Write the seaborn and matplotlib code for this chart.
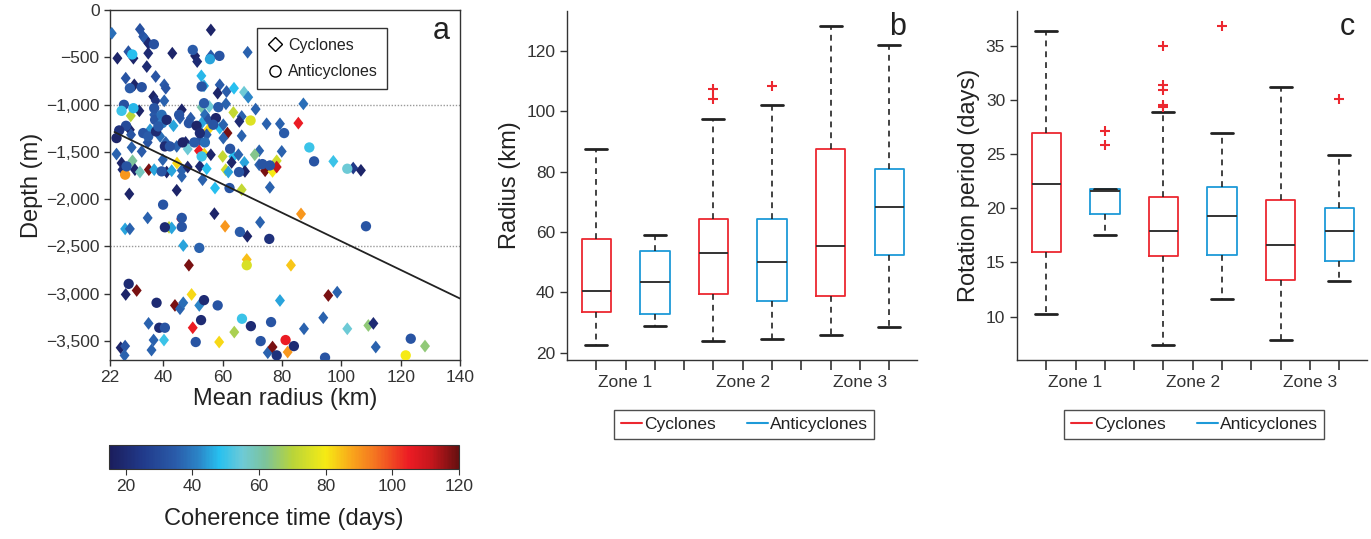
import numpy as np
import pandas as pd
import matplotlib
matplotlib.use("Agg")
import matplotlib.pyplot as plt
from matplotlib.colors import LinearSegmentedColormap, Normalize
from matplotlib.lines import Line2D
from matplotlib.ticker import FuncFormatter
import seaborn as sns

# ---------------- Panel a data (mean radius km, depth m, coherence time days) ----------------
cyc_radius = [22.6, 32.1, 56.0, 33.2, 34.0, 34.9, 24.5, 28.2, 29.9, 34.9, 43.0, 50.7, 51.4, 56.0, 68.4,
              34.4, 27.3, 30.2, 37.4, 40.3, 40.8, 52.8, 53.7, 59.0, 58.3, 61.3, 63.8, 67.2, 68.6, 36.6,
              37.4, 40.3, 29.0, 31.9, 36.9, 43.4, 46.2, 45.6, 49.2, 52.9, 55.5, 61.1, 54.0, 55.1, 52.9,
              55.1, 54.6, 59.0, 60.2, 61.6, 63.6, 66.4, 65.6, 71.1, 74.8, 79.3, 85.5, 87.2, 66.4, 28.7,
              29.1, 35.5, 38.9, 29.3, 32.7, 34.7, 40.8, 44.5, 47.5, 48.2, 52.3, 52.0, 53.8, 56.0, 60.0,
              60.2, 63.6, 63.0, 65.3, 67.3, 67.5, 72.3, 70.8, 72.3, 74.3, 76.8, 78.2, 78.2, 79.9, 97.3,
              104.0, 106.6, 24.2, 25.9, 26.2, 29.6, 30.4, 32.1, 35.1, 36.9, 39.8, 41.1, 42.8, 44.6, 46.2,
              46.2, 48.2, 52.3, 53.2, 54.6, 57.4, 61.0, 61.9, 66.4, 75.9, 28.5, 44.5, 86.4, 34.7, 46.0,
              57.2, 27.1, 28.7, 41.9, 42.8, 60.8, 68.3, 72.6, 46.7, 48.6, 68.1, 83.0, 27.3, 31.0, 43.9,
              45.6, 46.7, 49.5, 52.1, 95.6, 98.6, 79.3, 35.0, 36.7, 40.2, 49.9, 58.8, 63.9, 36.0, 25.6,
              27.1, 26.9, 75.2, 76.8, 81.9, 87.4, 93.9, 102.0, 109.1, 110.8, 111.6, 128.2]
cyc_depth = [-246, -204, -211, -281, -310, -352, -510, -440, -510, -457, -457, -485, -545, -485, -447,
             -598, -721, -791, -703, -791, -827, -696, -802, -791, -879, -862, -827, -869, -922, -915,
             -960, -960, -1119, -1066, -1108, -1224, -1055, -1143, -1143, -1027, -1020, -992, -1108, -1161, -1196,
             -1266, -1319, -1249, -1213, -1301, -1083, -1126, -1178, -1048, -1203, -1203, -1196, -992, -1330, -1266,
             -1319, -1266, -1336, -1453, -1495, -1400, -1400, -1442, -1400, -1470, -1372, -1488, -1523, -1530, -1548,
             -1354, -1548, -1611, -1530, -1611, -1706, -1488, -1530, -1636, -1699, -1706, -1594, -1660, -1495, -1600,
             -1671, -1695, -1523, -1618, -1688, -1594, -1688, -1713, -1688, -1688, -1583, -1713, -1699, -1618, -1695,
             -1759, -1660, -1653, -1794, -1678, -1882, -1688, -1713, -1900, -1875, -1945, -1906, -2156, -2198, -2210,
             -2153, -2314, -2314, -2297, -2304, -2286, -2392, -2244, -2490, -2698, -2638, -2698, -3007, -2965, -3123,
             -3158, -3095, -3007, -3123, -3018, -2983, -3071, -3313, -3489, -3489, -3359, -3510, -3405, -3595, -3570,
             -3553, -3651, -3623, -3563, -3616, -3370, -3253, -3370, -3335, -3313, -3563, -3553]
cyc_coh = [38, 32, 18, 33, 35, 20, 18, 33, 18, 20, 18, 18, 20, 35, 36,
           20, 33, 18, 33, 35, 33, 47, 45, 35, 18, 35, 48, 55, 42, 18,
           22, 36, 70, 18, 35, 45, 18, 35, 35, 60, 55, 36, 38, 33, 45,
           82, 35, 48, 36, 118, 72, 36, 20, 36, 36, 36, 105, 38, 36, 18,
           33, 44, 38, 36, 35, 33, 36, 36, 20, 55, 33, 105, 82, 18, 72,
           36, 48, 18, 36, 45, 18, 36, 63, 36, 118, 80, 74, 112, 36, 50,
           25, 18, 36, 18, 20, 62, 18, 58, 118, 45, 36, 18, 45, 82, 36,
           36, 18, 20, 36, 48, 48, 74, 45, 72, 36, 18, 18, 90, 36, 105,
           18, 45, 36, 72, 45, 90, 18, 36, 45, 118, 85, 84, 18, 118, 118,
           36, 38, 82, 42, 118, 36, 45, 36, 36, 50, 105, 82, 68, 36, 18,
           33, 36, 36, 118, 90, 36, 36, 55, 65, 20, 36, 65]

anti_radius = [36.8, 29.5, 49.9, 55.7, 58.9, 28.7, 32.7, 52.9, 26.7, 25.9, 29.9, 36.9, 37.2, 39.4, 39.6,
               41.1, 45.3, 48.6, 51.2, 53.7, 58.5, 57.7, 56.8, 52.3, 69.4, 80.7, 24.2, 27.4, 25.1, 33.2,
               34.9, 37.5, 38.3, 40.5, 42.2, 46.5, 50.4, 54.0, 52.9, 62.5, 65.5, 73.4, 75.9, 89.2, 90.8,
               102.0, 27.1, 27.6, 39.4, 62.3, 39.9, 46.2, 40.5, 46.2, 65.8, 75.7, 108.3, 52.1, 68.1, 28.3,
               37.7, 53.7, 58.3, 38.6, 40.5, 52.7, 50.9, 66.5, 69.5, 72.8, 76.3, 78.2, 81.2, 84.0, 94.5,
               121.7, 123.4]
anti_depth = [-362, -470, -422, -520, -485, -827, -816, -809, -1002, -1066, -1038, -1038, -1161, -1108, -1196,
              -1161, -1108, -1196, -1224, -985, -1027, -1143, -1213, -1301, -1168, -1301, -1354, -1224, -1273, -1301,
              -1336, -1284, -1231, -1442, -1442, -1400, -1400, -1400, -1548, -1467, -1713, -1629, -1643, -1453, -1600,
              -1678, -1741, -1653, -1706, -1882, -2058, -2198, -2297, -2293, -2346, -2420, -2286, -2515, -2698, -2895,
              -3095, -3067, -3123, -3359, -3359, -3278, -3510, -3264, -3342, -3500, -3299, -3651, -3489, -3553, -3675,
              -3651, -3475]
anti_coh = [32, 48, 35, 45, 33, 35, 32, 33, 32, 50, 47, 33, 33, 38, 40,
            20, 33, 33, 18, 35, 35, 18, 33, 20, 76, 35, 18, 30, 22, 33,
            35, 20, 35, 20, 33, 18, 35, 38, 50, 33, 33, 33, 33, 50, 33,
            55, 90, 33, 33, 33, 33, 33, 20, 33, 35, 22, 33, 36, 75, 20,
            20, 20, 33, 20, 33, 20, 33, 50, 20, 33, 33, 22, 105, 20, 33,
            80, 33]

# regression line end points (radius, depth)
trend_radius = [23.5, 140.0]
trend_depth = [-1290, -3050]
zone_limits = [-1000, -2500]

# ---------------- Panels b and c: box summaries ----------------
zones = ["Zone 1", "Zone 2", "Zone 3"]
box_types = ["Cyclones", "Anticyclones", "Cyclones", "Anticyclones", "Cyclones", "Anticyclones"]
# whisker low, Q1, median, Q3, whisker high
radius_stats = [[22.5, 33.6, 40.4, 57.8, 87.5],
                [28.8, 32.9, 43.5, 53.9, 59.0],
                [23.9, 39.6, 53.1, 64.5, 97.6],
                [24.5, 37.3, 50.0, 64.3, 102.1],
                [25.9, 38.9, 55.5, 87.5, 128.4],
                [28.6, 52.4, 68.3, 80.8, 122.1]]
radius_outliers = [[], [], [107.3, 104.2], [108.6], [], []]

period_stats = [[10.2, 16.0, 22.2, 26.9, 36.4],
                [17.5, 19.5, 21.55, 21.8, 21.8],
                [7.4, 15.6, 17.9, 21.0, 28.9],
                [11.6, 15.7, 19.3, 22.0, 26.9],
                [7.8, 13.4, 16.6, 20.8, 31.2],
                [13.3, 15.1, 17.9, 20.0, 24.9]]
period_outliers = [[], [27.1, 25.8], [35.0, 31.4, 30.9, 29.5, 29.3], [36.8], [], [30.1]]

# ---------------- Style ----------------
sns.set_style("ticks")
FONT = ["Liberation Sans Narrow", "Liberation Sans", "DejaVu Sans"]
plt.rcParams["font.family"] = FONT
plt.rcParams["axes.edgecolor"] = "#333333"
plt.rcParams["xtick.color"] = "#333333"
plt.rcParams["ytick.color"] = "#333333"
plt.rcParams["text.color"] = "#222222"
plt.rcParams["axes.labelcolor"] = "#222222"

RED = "#ec2830"
BLUE = "#1e9ad8"

cmap = LinearSegmentedColormap.from_list("coh", [
    (0.0, "#1b1d5c"), ((25 - 15) / 105, "#213a8a"), ((35 - 15) / 105, "#2a5caa"),
    ((42 - 15) / 105, "#2b86c8"), ((48 - 15) / 105, "#27c0ef"), ((55 - 15) / 105, "#6ecad6"),
    ((62 - 15) / 105, "#7cc39a"), ((70 - 15) / 105, "#b8d43a"), ((80 - 15) / 105, "#f6eb14"),
    ((88 - 15) / 105, "#f9a51b"), ((95 - 15) / 105, "#f47321"), ((105 - 15) / 105, "#ec1c24"),
    ((112 - 15) / 105, "#c4161c"), (1.0, "#661010")])
norm = Normalize(15, 120)

W, H = 1371, 539
fig = plt.figure(figsize=(W / 100, H / 100), dpi=100)


def px_axes(l, t, r, b):
    return fig.add_axes([l / W, 1 - b / H, (r - l) / W, (b - t) / H])


TICK = 12.5
LABEL = 17

# ---------------- Panel a ----------------
ax_a = px_axes(110, 10, 460, 360)
dfc = pd.DataFrame({"radius": cyc_radius, "depth": cyc_depth, "coh": cyc_coh})
dfa = pd.DataFrame({"radius": anti_radius, "depth": anti_depth, "coh": anti_coh})
diamond = [(0, 1), (0.78, 0), (0, -1), (-0.78, 0), (0, 1)]
for v in zone_limits:
    ax_a.axhline(v, color="#999999", lw=1.0, ls=(0, (1, 1.2)), zorder=1)
sns.scatterplot(data=dfc, x="radius", y="depth", hue="coh", hue_norm=norm, palette=cmap,
                marker=diamond, s=85, linewidth=0, legend=False, ax=ax_a, zorder=3)
sns.scatterplot(data=dfa, x="radius", y="depth", hue="coh", hue_norm=norm, palette=cmap,
                marker="o", s=55, linewidth=0, legend=False, ax=ax_a, zorder=3)
sns.lineplot(x=trend_radius, y=trend_depth, color="#222222", lw=1.3, ax=ax_a, zorder=4)
ax_a.set_xlim(22, 140)
ax_a.set_ylim(-3700, 0)
ax_a.set_xticks([22, 40, 60, 80, 100, 120, 140])
ax_a.set_yticks([0, -500, -1000, -1500, -2000, -2500, -3000, -3500])
ax_a.yaxis.set_major_formatter(FuncFormatter(lambda v, p: "0" if v == 0 else f"\u2212{abs(v):,.0f}"))
ax_a.tick_params(labelsize=TICK, length=4, width=1)
ax_a.set_xlabel("Mean radius (km)", fontsize=LABEL, labelpad=2)
ax_a.set_ylabel("Depth (m)", fontsize=LABEL, labelpad=2)
for s in ax_a.spines.values():
    s.set_linewidth(1.0)
leg_a = ax_a.legend(handles=[
    Line2D([], [], marker="D", ls="", mfc="white", mec="black", ms=7, label="Cyclones"),
    Line2D([], [], marker="o", ls="", mfc="white", mec="black", ms=8, label="Anticyclones")],
    loc="upper right", bbox_to_anchor=(0.815, 0.97), fontsize=11.5, frameon=True,
    fancybox=False, edgecolor="black", handletextpad=0.3, borderpad=0.6, labelspacing=0.7,
    handlelength=1.0)
leg_a.get_frame().set_linewidth(1.0)
ax_a.text(0.945, 0.94, "a", transform=ax_a.transAxes, fontsize=22, ha="center", va="center")

# colorbar
cax = px_axes(109, 445, 459, 469)
sm = matplotlib.cm.ScalarMappable(norm=norm, cmap=cmap)
cb = fig.colorbar(sm, cax=cax, orientation="horizontal")
cb.set_ticks([20, 40, 60, 80, 100, 120])
cb.ax.tick_params(labelsize=TICK, length=4)
cb.outline.set_linewidth(0.8)
cb.set_label("Coherence time (days)", fontsize=LABEL, labelpad=10)


# ---------------- Panels b, c ----------------
def box_panel(ax, stats, outliers, ylabel, ylim, yticks, letter):
    positions = [0, 2, 4, 6, 8, 10]
    rows = []
    for p, t, st in zip(positions, box_types, stats):
        for v in st:
            rows.append({"pos": p, "value": v, "type": t})
    df = pd.DataFrame(rows)
    sns.boxplot(data=df, x="pos", y="value", hue="type", hue_order=["Cyclones", "Anticyclones"],
                palette={"Cyclones": RED, "Anticyclones": BLUE}, native_scale=True, dodge=False,
                fill=False, width=0.5, whis=np.inf, saturation=1, linewidth=1.3, showfliers=False,
                legend=False, ax=ax, capwidths=0.75,
                medianprops=dict(color="#333333", linewidth=1.4),
                whiskerprops=dict(color="#222222", linestyle=(0, (3.5, 3)), linewidth=1.2),
                capprops=dict(color="#222222", linewidth=2.0))
    ox, oy = [], []
    for p, outs in zip(positions, outliers):
        for v in outs:
            ox.append(p)
            oy.append(v)
    sns.scatterplot(x=ox, y=oy, marker="+", color=RED, s=60, linewidth=1.5, ax=ax, zorder=5,
                    legend=False)
    ax.set_xlim(-1, 10.95)
    ax.set_ylim(*ylim)
    ax.set_xticks(range(11))
    ax.set_xticklabels(["", "Zone 1", "", "", "", "Zone 2", "", "", "", "Zone 3", ""])
    ax.set_yticks(yticks)
    ax.tick_params(axis="both", labelsize=TICK, length=5, width=1)
    ax.tick_params(axis="x", length=7, width=1.2)
    ax.set_xlabel("")
    ax.set_ylabel(ylabel, fontsize=LABEL, labelpad=4)
    sns.despine(ax=ax)
    for s in ax.spines.values():
        s.set_linewidth(1.0)
    leg = ax.legend(handles=[Line2D([], [], color=RED, lw=1.5, label="Cyclones"),
                             Line2D([], [], color=BLUE, lw=1.5, label="Anticyclones")],
                    loc="center", bbox_to_anchor=(0.507, -0.185), ncol=2, fontsize=12.5,
                    frameon=True, fancybox=False, edgecolor="#222222", handlelength=1.2,
                    handletextpad=0.1, columnspacing=1.8, borderpad=0.4)
    leg.get_frame().set_linewidth(1.0)
    ax.text(0.945, 0.955, letter, transform=ax.transAxes, fontsize=22, ha="center", va="center")


ax_b = px_axes(567, 11, 917, 360)
box_panel(ax_b, radius_stats, radius_outliers, "Radius (km)", (17.6, 133.3),
          [20, 40, 60, 80, 100, 120], "b")
ax_c = px_axes(1017, 11, 1367, 360)
box_panel(ax_c, period_stats, period_outliers, "Rotation period (days)", (6.0, 38.2),
          [10, 15, 20, 25, 30, 35], "c")

fig.savefig("out.png", dpi=100)
